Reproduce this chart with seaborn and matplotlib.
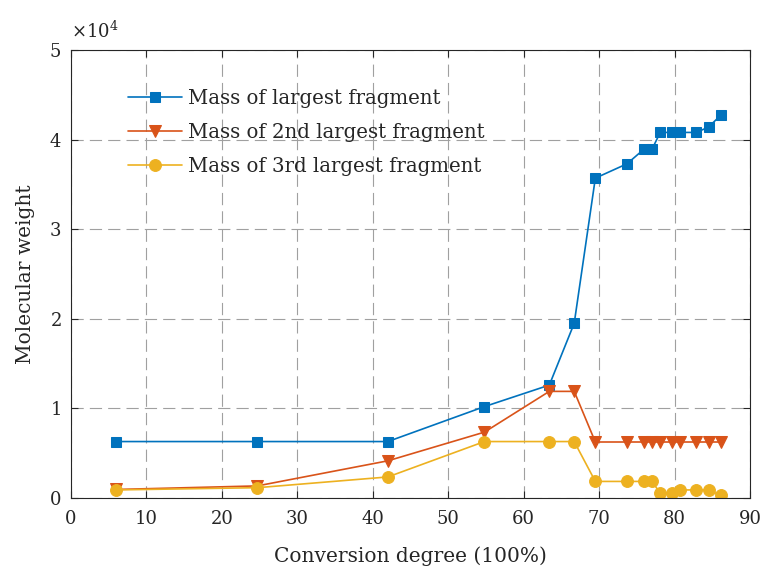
import matplotlib
matplotlib.use("Agg")
import matplotlib.pyplot as plt
import seaborn as sns
import numpy as np
from matplotlib.ticker import ScalarFormatter

conversion = [5.9, 24.7, 42.0, 54.8, 63.4, 66.7, 69.5, 73.7, 75.9, 77.0, 78.1, 79.6, 80.7, 82.9, 84.5, 86.1]
mass_largest = [6300, 6300, 6300, 10200, 12600, 19500, 35700, 37300, 38900, 38900, 40800, 40800, 40800, 40800, 41400, 42700]
mass_2nd = [950, 1350, 4150, 7350, 11900, 11900, 6250, 6250, 6250, 6250, 6250, 6250, 6250, 6250, 6250, 6250]
mass_3rd = [900, 1150, 2350, 6300, 6300, 6300, 1850, 1850, 1850, 1850, 550, 550, 900, 900, 900, 300]
series_labels = ["Mass of largest fragment", "Mass of 2nd largest fragment", "Mass of 3rd largest fragment"]
xticks = list(range(0, 91, 10))
yticks = [0, 10000, 20000, 30000, 40000, 50000]

sns.set_theme(style="white")
plt.rcParams['font.family'] = ['DejaVu Serif']
plt.rcParams['mathtext.fontset'] = 'dejavuserif'

fig = plt.figure(figsize=(7.63, 5.72), dpi=100)
ax = fig.add_axes([71/763, 1-498/572, (750-71)/763, (498-50)/572])

colors = ["#0072BD", "#D95319", "#EDB120"]
markers = ["s", "v", "o"]
msizes = [7, 8.5, 8.5]
for ys, lab, c, m, ms in zip([mass_largest, mass_2nd, mass_3rd], series_labels, colors, markers, msizes):
    sns.lineplot(x=conversion, y=ys, ax=ax, color=c, marker=m, markersize=ms,
                 markeredgecolor=c, linewidth=1.2, label=lab, estimator=None, sort=False)

ax.set_xlim(0, 90)
ax.set_ylim(0, 50000)
ax.set_xticks(xticks)
ax.set_yticks(yticks)
fmt = ScalarFormatter(useMathText=True)
fmt.set_powerlimits((0, 0))
ax.yaxis.set_major_formatter(fmt)
ax.yaxis.get_offset_text().set_fontsize(13)
ax.yaxis.get_offset_text().set_color("#262626")
ax.yaxis.OFFSETTEXTPAD = 9

ax.grid(True, color="#a0a0a0", linestyle=(0, (11, 5.5)), linewidth=0.8)
for s in ax.spines.values():
    s.set_visible(True)
    s.set_color("#262626")
    s.set_linewidth(0.8)
ax.tick_params(direction="in", length=5, width=0.8, labelsize=13, colors="#262626",
               top=True, right=True, bottom=True, left=True)
ax.tick_params(axis="x", pad=9)
ax.tick_params(axis="y", pad=7)
for t in ax.get_xticklabels() + ax.get_yticklabels():
    t.set_color("#262626")

ax.set_xlabel("Conversion degree (100%)", fontsize=14.5, color="#262626", labelpad=13)
ax.set_ylabel("Molecular weight", fontsize=14.5, color="#262626", labelpad=10)

leg = ax.legend(loc="upper left", bbox_to_anchor=((128-71)/679, (498-89)/448), frameon=False,
                fontsize=14.2, handlelength=2.75, handletextpad=0.3, labelspacing=0.75,
                borderpad=0, borderaxespad=0)
for t in leg.get_texts():
    t.set_color("#262626")

fig.savefig("out.png", dpi=100)
